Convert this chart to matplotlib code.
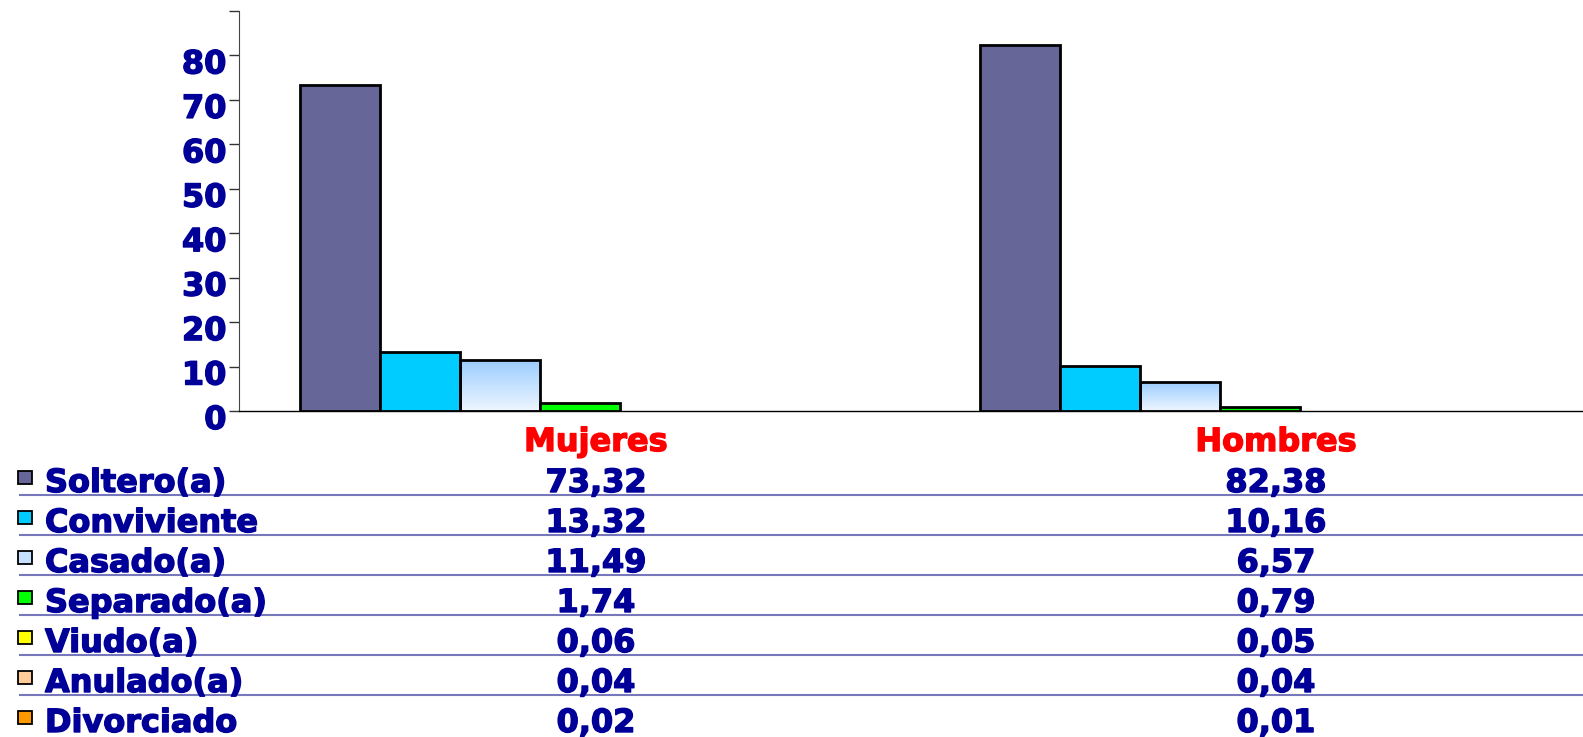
import numpy as np
import matplotlib.pyplot as plt
import matplotlib.transforms as mtransforms
import matplotlib.patheffects as pe
from matplotlib.patches import Rectangle
from matplotlib.colors import LinearSegmentedColormap

# Datos
categorias = ["Mujeres", "Hombres"]
estados = ["Soltero(a)", "Conviviente", "Casado(a)", "Separado(a)",
           "Viudo(a)", "Anulado(a)", "Divorciado"]
mujeres = [73.32, 13.32, 11.49, 1.74, 0.06, 0.04, 0.02]
hombres = [82.38, 10.16, 6.57, 0.79, 0.05, 0.04, 0.01]
colores = ["#666699", "#00CCFF", "#C6E0FF", "#00FF00",
           "#FFFF00", "#FFCC99", "#FF9900"]
yticks = list(range(0, 100, 10))

AZUL = "#000099"
FS = 23
plt.rcParams['font.family'] = ['DejaVu Sans']
plt.rcParams['font.weight'] = 'bold'

W, H = 1583, 737
fig = plt.figure(figsize=(W / 100, H / 100), dpi=100)
ax = fig.add_axes([239 / W, 1 - 411 / H, 1 - 239 / W, 400 / H])

def fy(ypx):
    return 1 - ypx / H

def grueso(color):
    # el texto original es más pesado que DejaVu Bold
    return [pe.withStroke(linewidth=1.0, foreground=color)]

valores = np.array([mujeres, hombres])
x = np.arange(len(categorias))
ancho = 80 / 680

# degradado para Casado(a)
cmap_casado = LinearSegmentedColormap.from_list("casado", ["#EEF6FF", "#99CCFF"])
grad = np.linspace(1, 0, 256).reshape(-1, 1)

for i, est in enumerate(estados):
    vals = valores[:, i]
    pos = x + (i - 3) * ancho
    lw = [2.0 if v > 0.1 else 0 for v in vals]
    if est.startswith("Casado"):
        bars = ax.bar(pos, vals, ancho, facecolor='none', edgecolor='black',
                      linewidth=lw, zorder=3)
        for b in bars:
            img = ax.imshow(grad, extent=[b.get_x(), b.get_x() + b.get_width(), 0, b.get_height()],
                            cmap=cmap_casado, aspect='auto', zorder=2)
            img.set_clip_path(b)
    else:
        ax.bar(pos, vals, ancho, color=colores[i], edgecolor='black',
               linewidth=lw, zorder=3)

ax.set_xlim((239 - 580) / 680, (1583 - 580) / 680)
ax.set_ylim(0, 90)
ax.set_yticks(yticks)
ax.set_yticklabels([str(t) if t < 90 else "" for t in yticks])
ax.set_xticks([])
ax.tick_params(axis='y', direction='out', length=7, width=1, color='#333333',
               labelsize=FS, labelcolor=AZUL, pad=2)
for lab in ax.get_yticklabels():
    lab.set_fontweight('bold')
    lab.set_path_effects(grueso(AZUL))
    lab.set_transform(lab.get_transform() +
                      mtransforms.ScaledTranslation(0, -0.06, fig.dpi_scale_trans))
for s in ['top', 'right']:
    ax.spines[s].set_visible(False)
ax.spines['left'].set_color('#444444')
ax.spines['bottom'].set_color('black')
ax.spines['bottom'].set_linewidth(1)

# Tabla de datos
trans = mtransforms.blended_transform_factory(ax.transData, fig.transFigure)
desp = 16 / 680
for j, cat in enumerate(categorias):
    fig.text(j + desp, fy(451), cat, transform=trans, ha='center', va='baseline',
             color='#FF0000', fontsize=FS, fontweight='bold',
             path_effects=grueso('#FF0000'))

for i, est in enumerate(estados):
    base = 492 + 40 * i
    fig.text(45 / W, fy(base), est, ha='left', va='baseline',
             color=AZUL, fontsize=FS, fontweight='bold', path_effects=grueso(AZUL))
    for j in range(len(categorias)):
        txt = f"{valores[j, i]:.2f}".replace('.', ',')
        fig.text(j + desp, fy(base), txt, transform=trans, ha='center',
                 va='baseline', color=AZUL, fontsize=FS, fontweight='bold',
                 path_effects=grueso(AZUL))
    fig.add_artist(Rectangle((18 / W, fy(base - 8)), 14 / W, 13 / H,
                             transform=fig.transFigure, facecolor=colores[i],
                             edgecolor='black', linewidth=1.3))
    if i < len(estados) - 1:
        fig.add_artist(plt.Line2D([20 / W, 1], [fy(base + 3)] * 2,
                                  transform=fig.transFigure, color='#7777BB',
                                  linewidth=1.5))

fig.savefig('out.png', dpi=100)
